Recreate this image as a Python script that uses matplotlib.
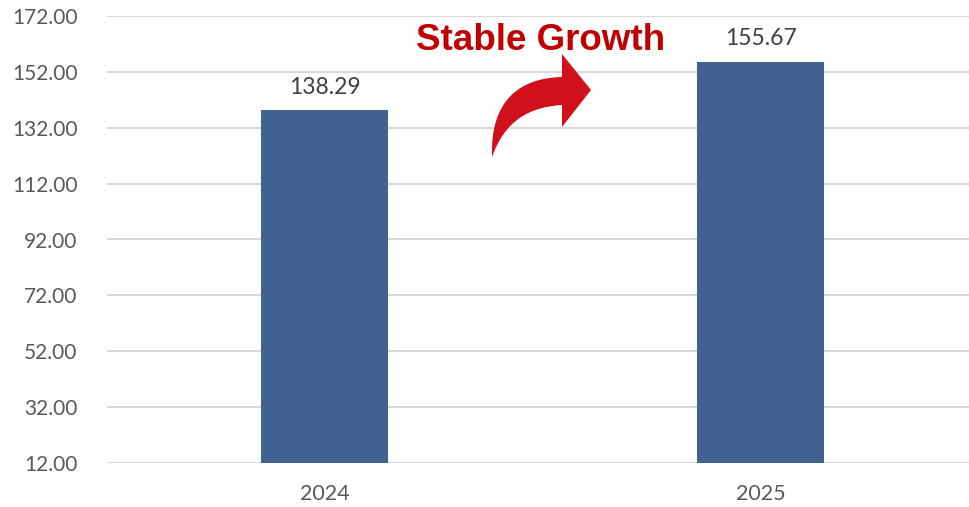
import matplotlib
matplotlib.use("Agg")
import matplotlib.pyplot as plt
from matplotlib.path import Path
from matplotlib.patches import PathPatch

# data
years = ["2024", "2025"]
values = [138.29, 155.67]
y_ticks = [12, 32, 52, 72, 92, 112, 132, 152, 172]

W, H = 969, 507
plt.rcParams['font.family'] = ['Lato', 'DejaVu Sans']

fig = plt.figure(figsize=(W / 100, H / 100), dpi=100)
ax = fig.add_axes([106.5 / W, 44 / H, 872 / W, 447 / H])

x = range(len(years))
bars = ax.bar(x, [v - y_ticks[0] for v in values], bottom=y_ticks[0],
              width=0.29, color="#416191", zorder=3)

for xi, v in zip(x, values):
    ax.annotate(f"{v:.2f}", (xi, v), xytext=(0, 9), textcoords="offset points",
                ha="center", va="bottom", fontsize=16.5, color="#404040")

ax.set_xlim(-0.5, 1.5)
ax.set_ylim(y_ticks[0], y_ticks[-1])
ax.set_yticks(y_ticks)
ax.set_yticklabels([f"{t:.2f}" for t in y_ticks])
ax.set_xticks(list(x))
ax.set_xticklabels(years)
ax.tick_params(axis="y", length=0, pad=21, labelsize=15, labelcolor="#595959")
ax.tick_params(axis="x", length=0, pad=15, labelsize=15.5, labelcolor="#595959")
ax.grid(axis="y", color="#D9D9D9", linewidth=1.5, zorder=0)
for s in ax.spines.values():
    s.set_visible(False)

# curved arrow (pixel coords, origin top-left)
pts = [(492, 157), (490, 100), (520, 78), (562, 77),
       (562, 54), (591, 90), (562, 127), (562, 105),
       (530, 107), (505, 120), (492, 157), (492, 157)]
codes = [Path.MOVETO, Path.CURVE4, Path.CURVE4, Path.CURVE4,
         Path.LINETO, Path.LINETO, Path.LINETO, Path.LINETO,
         Path.CURVE4, Path.CURVE4, Path.CURVE4, Path.CLOSEPOLY]
verts = [(px / W, 1 - py / H) for px, py in pts]
fig.patches.append(PathPatch(Path(verts, codes), facecolor="#D0111B",
                             edgecolor="none", transform=fig.transFigure))

fig.text(416 / W, 1 - 40 / H, "Stable Growth", family="Liberation Sans",
         fontweight="bold", fontsize=26.5, color="#C00000", ha="left", va="center")

fig.savefig("out.png", dpi=100)
